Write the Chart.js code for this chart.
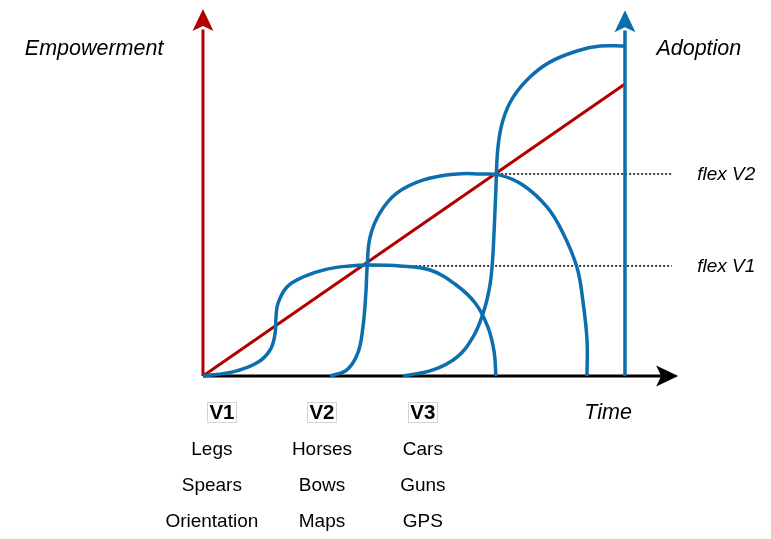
<!DOCTYPE html>
<html>
<head>
<meta charset="utf-8">
<script src="https://cdn.jsdelivr.net/npm/chart.js@4/dist/chart.umd.min.js"></script>
<style>
  html, body { margin: 0; padding: 0; background: #fff; }
  #wrap { width: 771px; height: 539px; }
</style>
</head>
<body>
<div id="wrap"><canvas id="chart" width="771" height="539"></canvas></div>
<script>
// time: 0 = origin, 100 = adoption axis ; level: 0 = time axis, 100 = top of empowerment line
const v1Time     = [0, 7.1, 12.8, 15.9, 17.1, 17.3, 17.8, 19.9, 23.7, 29.4, 34.8, 38.9, 46.7, 53.8, 59.7, 64.5, 67.5, 69.0, 69.4];
const v1Adoption = [0, 1.4, 4.5, 8.9, 14.7, 20.2, 25.0, 30.5, 33.9, 36.6, 37.7, 38.0, 37.7, 36.3, 31.5, 25.0, 16.8, 8.2, 0];

const v2Time     = [30.1, 34.1, 36.7, 37.9, 38.6, 38.9, 39.6, 41.9, 46.0, 52.1, 60.2, 65.6, 70.4, 75.8, 81.5, 85.3, 88.6, 90.0, 91.0, 91.0];
const v2Adoption = [0, 2.1, 7.9, 16.8, 28.4, 37.3, 47.6, 55.8, 62.7, 67.1, 69.2, 69.2, 68.8, 65.4, 57.9, 49.0, 37.3, 26.0, 12.3, 0];

const v3Time     = [47.4, 54.5, 60.2, 64.0, 66.4, 67.8, 68.5, 69.0, 69.4, 69.9, 71.1, 73.5, 77.5, 82.2, 88.6, 94.1, 100];
const v3Adoption = [0, 2.1, 6.5, 13.4, 21.6, 29.5, 37.3, 50.0, 63.7, 78.4, 87.7, 95.5, 102.4, 107.5, 111.3, 113.0, 113.0];

const empowermentTime  = [0, 100];
const empowermentLevel = [0, 100];

const flexV1Time  = [38.9, 111.1];
const flexV1Level = [37.7, 37.7];
const flexV2Time  = [69.7, 111.1];
const flexV2Level = [69.2, 69.2];

// axes: arrow tip positions
const timeAxisEnd = 112.6;
const empowermentAxisEnd = 125.7;
const adoptionAxisEnd = 125.3;

const versions = ['V1', 'V2', 'V3'];
const tools = [
  ['Legs', 'Spears', 'Orientation'],
  ['Horses', 'Bows', 'Maps'],
  ['Cars', 'Guns', 'GPS']
];
const flexLabels = ['flex V1', 'flex V2'];

const RED = '#b20000';
const BLUE = '#0b6fad';
const FONT = 'Helvetica, "Liberation Sans", Arial, sans-serif';

const pts = (xs, ys) => xs.map((x, i) => ({ x: x, y: ys[i] }));

function curve(data, color, width, order, extra) {
  return Object.assign({
    data: data,
    showLine: true,
    borderColor: color,
    borderWidth: width,
    pointRadius: 0,
    tension: 0.4,
    fill: false,
    order: order,
    clip: false
  }, extra || {});
}

function arrowHead(ctx, tipX, tipY, dir, color) {
  const L = 22, W = 10.5, N = 5;
  ctx.save();
  ctx.fillStyle = color;
  ctx.beginPath();
  if (dir === 'up') {
    ctx.moveTo(tipX, tipY);
    ctx.lineTo(tipX + W, tipY + L);
    ctx.lineTo(tipX, tipY + L - N);
    ctx.lineTo(tipX - W, tipY + L);
  } else {
    ctx.moveTo(tipX, tipY);
    ctx.lineTo(tipX - L, tipY + W);
    ctx.lineTo(tipX - L + N, tipY);
    ctx.lineTo(tipX - L, tipY - W);
  }
  ctx.closePath();
  ctx.fill();
  ctx.restore();
}

const labelsPlugin = {
  id: 'labels',
  afterDatasetsDraw(chart) {
    const ctx = chart.ctx;
    const sx = chart.scales.x, sy = chart.scales.y;
    const X = v => sx.getPixelForValue(v);
    const Y = v => sy.getPixelForValue(v);

    arrowHead(ctx, X(0), Y(empowermentAxisEnd), 'up', RED);
    arrowHead(ctx, X(100), Y(adoptionAxisEnd), 'up', BLUE);
    arrowHead(ctx, X(timeAxisEnd), Y(0), 'right', '#000');

    ctx.save();
    ctx.fillStyle = '#000';
    ctx.textBaseline = 'middle';

    ctx.font = 'italic 21.5px ' + FONT;
    ctx.textAlign = 'center';
    ctx.fillText('Empowerment', X(-25.8), Y(112.0));
    ctx.fillText('Adoption', X(117.5), Y(112.0));
    ctx.fillText('Time', X(96.0), Y(-12.7));

    ctx.font = 'italic 19px ' + FONT;
    ctx.textAlign = 'left';
    ctx.fillText(flexLabels[0], X(117.1), Y(37.3));
    ctx.fillText(flexLabels[1], X(117.1), Y(68.8));

    const colX = [2.1, 28.2, 52.1];
    const versionX = [4.5, 28.2, 52.1];
    const rowY = [-25.3, -37.7, -50.0];
    ctx.textAlign = 'center';
    versions.forEach((v, i) => {
      ctx.font = 'bold 20.5px ' + FONT;
      const w = ctx.measureText(v).width;
      const cx = X(versionX[i]), cy = Y(-12.3);
      ctx.strokeStyle = '#d4d4d4';
      ctx.lineWidth = 1;
      ctx.strokeRect(Math.round(cx - w / 2 - 2) + 0.5, Math.round(cy - 10) + 0.5, Math.round(w + 4), 20);
      ctx.fillText(v, cx, cy + 1);
      ctx.font = '19px ' + FONT;
      tools[i].forEach((t, j) => ctx.fillText(t, X(colX[i]), Y(rowY[j])));
    });
    ctx.restore();
  }
};

new Chart(document.getElementById('chart'), {
  type: 'scatter',
  data: {
    datasets: [
      curve(pts([0, timeAxisEnd - 4], [0, 0]), '#000', 3, 10, { tension: 0 }),
      curve(pts([0, 0], [0, empowermentAxisEnd - 7]), RED, 3, 9, { tension: 0 }),
      curve(pts(empowermentTime, empowermentLevel), RED, 3, 8, { tension: 0 }),
      curve(pts(flexV1Time, flexV1Level), '#000', 1.5, 7, { tension: 0, borderDash: [2, 2] }),
      curve(pts(flexV2Time, flexV2Level), '#000', 1.5, 7, { tension: 0, borderDash: [2, 2] }),
      curve(pts(v1Time, v1Adoption), BLUE, 3.5, 5),
      curve(pts(v2Time, v2Adoption), BLUE, 3.5, 5),
      curve(pts(v3Time, v3Adoption), BLUE, 3.5, 5),
      curve(pts([100, 100], [0, adoptionAxisEnd - 7]), BLUE, 3.5, 4, { tension: 0 })
    ]
  },
  options: {
    responsive: false,
    animation: false,
    events: [],
    layout: { padding: 0 },
    plugins: { legend: { display: false }, tooltip: { enabled: false } },
    scales: {
      x: { type: 'linear', display: false, min: -48.1, max: 134.6 },
      y: { type: 'linear', display: false, min: -55.82, max: 128.77 }
    }
  },
  plugins: [labelsPlugin]
});
</script>
</body>
</html>
